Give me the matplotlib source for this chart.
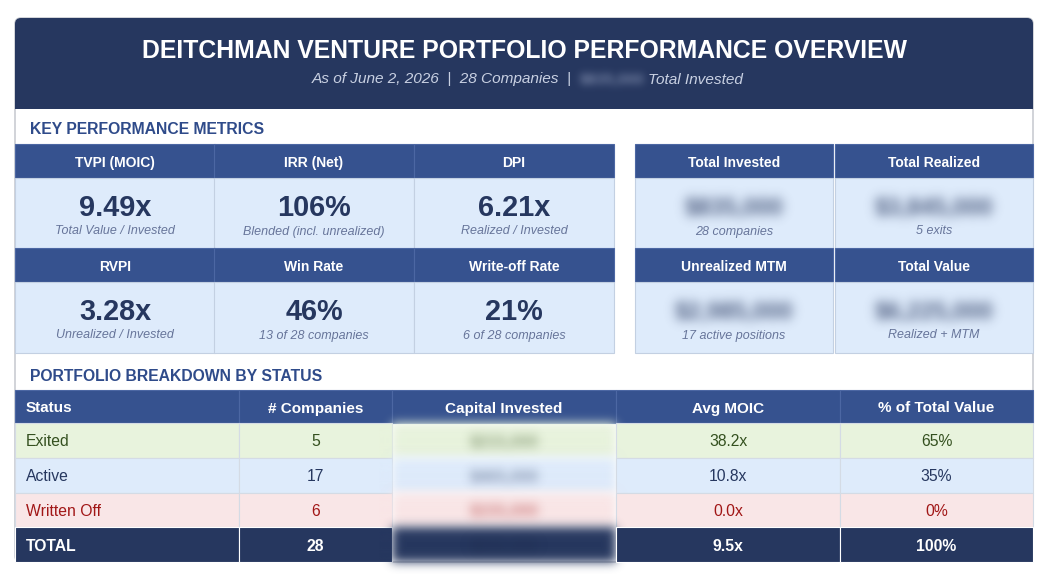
import numpy as np
import matplotlib
matplotlib.use("Agg")
import matplotlib.pyplot as plt
from matplotlib.patches import Rectangle, FancyBboxPatch

plt.rcParams['font.family'] = ['Liberation Sans', 'DejaVu Sans']

# ---- data ----
title = "DEITCHMAN VENTURE PORTFOLIO PERFORMANCE OVERVIEW"
subtitle_left = "As of June 2, 2026  |  28 Companies  |"
subtitle_hidden = "$835,000"
subtitle_right = "Total Invested"

metric_names_1 = ["TVPI (MOIC)", "IRR (Net)", "DPI"]
metric_values_1 = ["9.49x", "106%", "6.21x"]
metric_notes_1 = ["Total Value / Invested", "Blended (incl. unrealized)", "Realized / Invested"]
metric_names_2 = ["RVPI", "Win Rate", "Write-off Rate"]
metric_values_2 = ["3.28x", "46%", "21%"]
metric_notes_2 = ["Unrealized / Invested", "13 of 28 companies", "6 of 28 companies"]

money_names_1 = ["Total Invested", "Total Realized"]
money_values_1 = ["$835,000", "$3,845,000"]   # redacted in source
money_notes_1 = ["28 companies", "5 exits"]
money_names_2 = ["Unrealized MTM", "Total Value"]
money_values_2 = ["$2,985,000", "$6,225,000"]  # redacted in source
money_notes_2 = ["17 active positions", "Realized + MTM"]

table_cols = ["Status", "# Companies", "Capital Invested", "Avg MOIC", "% of Total Value"]
statuses = ["Exited", "Active", "Written Off", "TOTAL"]
n_companies = [5, 17, 6, 28]
capital = ["$215,000", "$465,000", "$155,000", "$835,000"]  # redacted in source
avg_moic = [38.2, 10.8, 0.0, 9.5]
pct_value = [65, 35, 0, 100]

# ---- style ----
NAVY = "#26375f"
BLUE = "#36528f"
LIGHT = "#deebfb"
SECTION = "#2f4b8a"
NOTE = "#67759a"
row_bg = ["#e8f3dd", "#deebfb", "#f9e6e7", NAVY]
row_fg = ["#34501f", NAVY, "#a11616", "white"]


def blur(sigma):
    # gaussian blur on premultiplied colour so edges fade instead of darkening
    r = int(3 * sigma)
    x = np.arange(-r, r + 1)
    k = np.exp(-x ** 2 / (2 * sigma ** 2))
    k /= k.sum()

    def conv(a):
        out = np.zeros_like(a)
        for i, w in enumerate(k):
            out += w * np.roll(a, i - r, axis=0)
        a = out
        out = np.zeros_like(a)
        for i, w in enumerate(k):
            out += w * np.roll(a, i - r, axis=1)
        return out

    def f(im, dpi):
        p = np.pad(im, ((r, r), (r, r), (0, 0)))
        a = p[..., 3:4]
        pm = np.concatenate([p[..., :3] * a, a], axis=2)
        pm = conv(pm)
        al = pm[..., 3:4]
        rgb = np.where(al > 1e-6, pm[..., :3] / np.maximum(al, 1e-6), 0)
        return np.clip(np.concatenate([rgb, al], axis=2), 0, 1), -r, -r
    return f


fig = plt.figure(figsize=(10.5, 5.74), dpi=100)
ax = fig.add_axes([0, 0, 1, 1])
ax.set_xlim(0, 1050)
ax.set_ylim(574, 0)
ax.axis("off")

L, R, T, B = 15, 1033, 18, 562
VA = "center_baseline"
dy = 0

# card
ax.add_patch(FancyBboxPatch((L, T), R - L, B - T, boxstyle="round,pad=0,rounding_size=6",
                            fc="white", ec="#c9ccd2", lw=1.2, zorder=1))
ax.add_patch(FancyBboxPatch((L, T), R - L, 80, boxstyle="round,pad=0,rounding_size=6",
                            fc=NAVY, ec="none", zorder=2))
ax.add_patch(Rectangle((L, T + 40), R - L, 109 - T - 40, fc=NAVY, ec="none", zorder=2))

ax.text(525, 49 + dy, title, color="white", fontsize=17.8, fontweight="bold",
        ha="center", va=VA, zorder=5)
ax.text(572, 78 + dy, subtitle_left, color="#c8d0e2", fontsize=11.1, style="italic",
        ha="right", va=VA, zorder=5)
ax.text(612, 78 + dy, subtitle_hidden, color="#7d8aab", fontsize=11.1, fontweight="bold",
        ha="center", va=VA, zorder=5, agg_filter=blur(4))
ax.text(648, 78 + dy, subtitle_right, color="#c8d0e2", fontsize=11.1, style="italic",
        ha="left", va=VA, zorder=5)

# ---- key metrics ----
ax.text(30, 128 + dy, "KEY PERFORMANCE METRICS", color=SECTION, fontsize=11.3,
        fontweight="bold", ha="left", va=VA, zorder=5)

left_edges = [15, 214, 414]
right_edges = [635, 835]
cw_left, cw_right = 200, 198
blocks = [(144, metric_names_1, metric_values_1, metric_notes_1,
           money_names_1, money_values_1, money_notes_1),
          (248, metric_names_2, metric_values_2, metric_notes_2,
           money_names_2, money_values_2, money_notes_2)]

for y0, names, vals, notes, mnames, mvals, mnotes in blocks:
    hh, vh = 34, 71
    groups = [(left_edges, cw_left, names, vals, notes, False),
              (right_edges, cw_right, mnames, mvals, mnotes, True)]
    for edges, cw, nm, vl, nt, hidden in groups:
        for x0, n, v, t in zip(edges, nm, vl, nt):
            ax.add_patch(Rectangle((x0, y0), cw, hh, fc=BLUE, ec="#4c67a3", lw=0.8, zorder=2))
            ax.add_patch(Rectangle((x0, y0 + hh), cw, vh, fc=LIGHT, ec="#c3d0e2", lw=0.8, zorder=2))
            cx = x0 + cw / 2
            ax.text(cx, y0 + hh / 2 + 0.5 + dy, n, color="white", fontsize=10, fontweight="bold",
                    ha="center", va=VA, zorder=5)
            if hidden:
                ax.text(cx, y0 + hh + 27 + dy, v, color="#2f3f66", fontsize=17, fontweight="bold",
                        ha="center", va=VA, zorder=5, alpha=0.85, agg_filter=blur(5.5))
            else:
                ax.text(cx, y0 + hh + 27 + dy, v, color=NAVY, fontsize=20.8, fontweight="bold",
                        ha="center", va=VA, zorder=5)
            ax.text(cx, y0 + hh + 52 + dy, t, color=NOTE, fontsize=9.0, style="italic",
                    ha="center", va=VA, zorder=5)

# ---- breakdown table ----
ax.text(30, 375 + dy, "PORTFOLIO BREAKDOWN BY STATUS", color=SECTION, fontsize=11.3,
        fontweight="bold", ha="left", va=VA, zorder=5)

col_x = [15, 239, 392, 616, 840, 1033]
ty = 390
rh = 34.75
for j, c in enumerate(table_cols):
    x0, x1 = col_x[j], col_x[j + 1]
    ax.add_patch(Rectangle((x0, ty), x1 - x0, 33, fc=BLUE, ec="#4c67a3", lw=0.8, zorder=2))
    if j == 0:
        ax.text(x0 + 11, ty + 17 + dy, c, color="white", fontsize=11, fontweight="bold",
                ha="left", va=VA, zorder=5)
    else:
        ax.text((x0 + x1) / 2, ty + 17 + dy, c, color="white", fontsize=11, fontweight="bold",
                ha="center", va=VA, zorder=5)

for i, s in enumerate(statuses):
    y0 = ty + 33 + i * rh
    bold = "bold" if i == 3 else "normal"
    cells = [s, str(n_companies[i]), capital[i], f"{avg_moic[i]:.1f}x", f"{pct_value[i]}%"]
    for j, txt in enumerate(cells):
        x0, x1 = col_x[j], col_x[j + 1]
        lc = "#ffffff" if i == 3 else "#d4dbe5"
        if j == 2:
            ax.add_patch(Rectangle((x0, y0), x1 - x0, rh, fc=row_bg[i], ec="none",
                                   zorder=2, agg_filter=blur(5)))
            ax.text((x0 + x1) / 2, y0 + rh / 2 + dy, txt,
                    color="#1c2a4a" if i == 3 else row_fg[i], alpha=0.5,
                    fontsize=12, fontweight="bold", ha="center", va=VA,
                    zorder=5, agg_filter=blur(5))
            continue
        ax.add_patch(Rectangle((x0, y0), x1 - x0, rh, fc=row_bg[i], ec=lc, lw=0.8, zorder=2))
        if j == 0:
            ax.text(x0 + 11, y0 + rh / 2 + dy, txt, color=row_fg[i], fontsize=11.3,
                    fontweight=bold, ha="left", va=VA, zorder=5)
        else:
            ax.text((x0 + x1) / 2, y0 + rh / 2 + dy, txt, color=row_fg[i], fontsize=11.3,
                    fontweight=bold, ha="center", va=VA, zorder=5)

fig.savefig("out.png", dpi=100, facecolor="white")
